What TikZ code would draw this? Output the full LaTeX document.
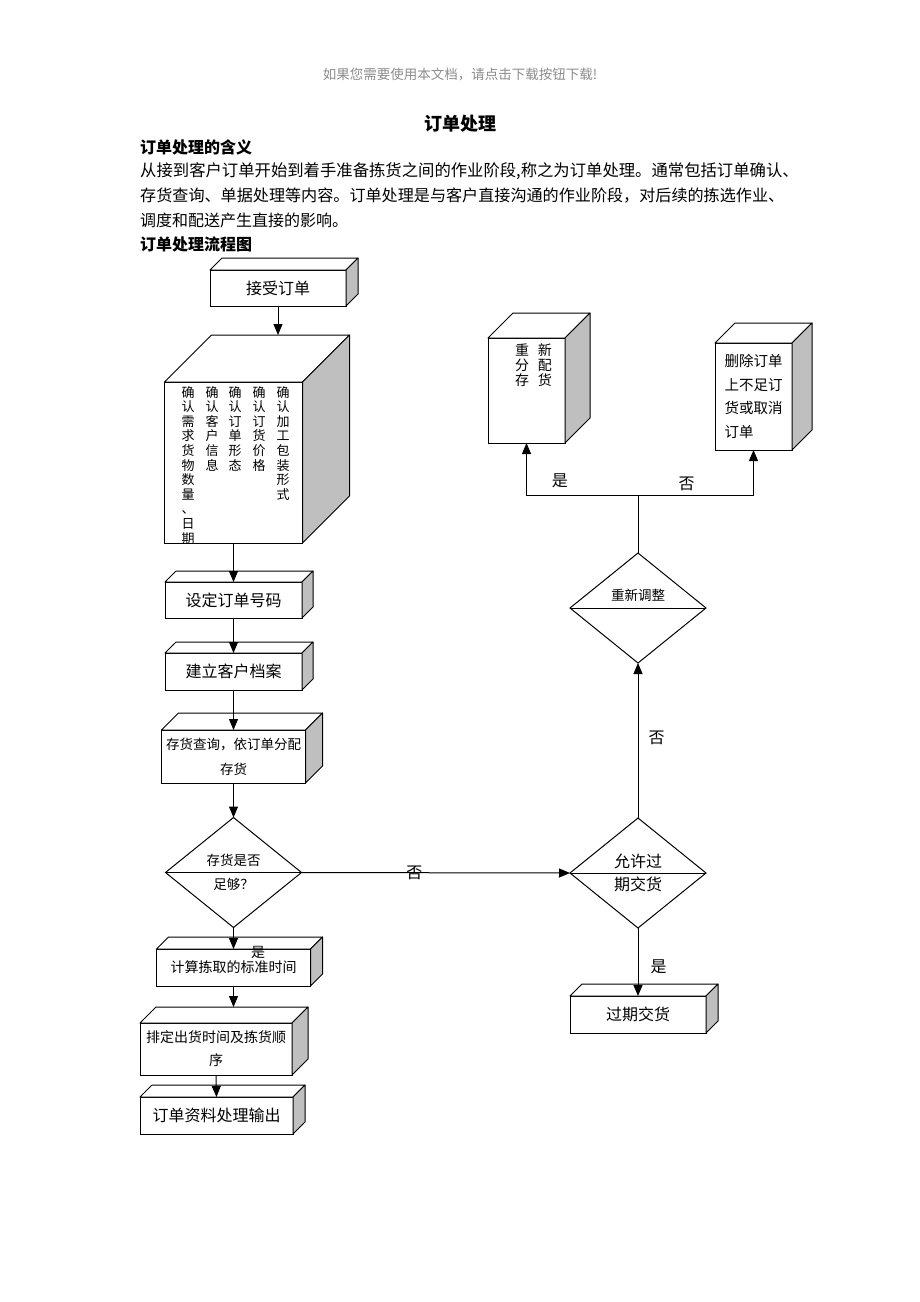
\documentclass[tikz,border=0pt]{standalone}
\usepackage{fontspec}
\setmainfont{Noto Sans CJK SC}
\usetikzlibrary{shapes.geometric,arrows.meta,calc}

\begin{document}
\begin{tikzpicture}[x=1pt,y=-1pt,
  box/.style={draw,fill=white,line width=1pt,inner sep=0pt,outer sep=0pt,align=center,font=\fontsize{16}{20}\selectfont},
  face/.style={draw,fill=white,line width=1pt,line join=round},
  side/.style={draw,fill=black!25,line width=1pt,line join=round},
  dia/.style={draw,diamond,fill=white,line width=1pt,inner sep=0pt,outer sep=0pt,align=center,minimum width=136,minimum height=110},
  arr/.style={-{Triangle[length=11pt,width=9pt]},line width=1pt},
  lbl/.style={inner sep=0pt,font=\fontsize{16}{16}\selectfont},
  vcol/.style={anchor=north,inner sep=0pt,align=center,font=\fontsize{13}{14.6}\selectfont},
  para/.style={anchor=west,inner sep=0pt,font=\fontsize{16}{18}\selectfont}]
\useasboundingbox[fill=white] (0,0) rectangle (920,1302);

% header and text
\node[inner sep=0pt,text=black!45,font=\fontsize{13.5}{14}\selectfont] (note) at (460,75) {如果您需要使用本文档，请点击下载按钮下载!};
\node[inner sep=0pt,font=\fontsize{18}{20}\selectfont\bfseries] (title) at (460,124) {订单处理};
\node[para,font=\fontsize{16}{18}\selectfont\bfseries] (meaning) at (140,147) {订单处理的含义};
\node[para,font=\fontsize{16.35}{18}\selectfont] (line1) at (140,171) {从接到客户订单开始到着手准备拣货之间的作业阶段,称之为订单处理。通常包括订单确认、};
\node[para,font=\fontsize{16.1}{18}\selectfont] (line2) at (140,196) {存货查询、单据处理等内容。订单处理是与客户直接沟通的作业阶段，对后续的拣选作业、};
\node[para] (line3) at (140,220) {调度和配送产生直接的影响。};
\node[para,font=\fontsize{16}{18}\selectfont\bfseries] (chart) at (140,244) {订单处理流程图};

% left column
\node[box,minimum width=136,minimum height=36] (recv) at (278,288) {接受订单};
\node[box,minimum width=138,minimum height=161] (confirm) at (233.5,462.5) {};
\node[box,minimum width=137,minimum height=36] (setno) at (233.5,600) {设定订单号码};
\node[box,minimum width=137,minimum height=37] (file) at (233.5,671.5) {建立客户档案};
\node[box,minimum width=144,minimum height=53,font=\fontsize{13.5}{25}\selectfont] (query) at (233.5,756.5) {存货查询，依订单分配\\存货};
\node[dia,font=\fontsize{13.5}{24}\selectfont] (enough) at (233.5,872.5) {存货是否\\足够？};
\node[box,minimum width=154,minimum height=37,font=\fontsize{14}{16}\selectfont] (calctime) at (233.5,967.5) {计算拣取的标准时间};
\node[box,minimum width=152,minimum height=52,font=\fontsize{14}{23}\selectfont] (sched) at (216,1049) {排定出货时间及拣货顺\\序};
\node[box,minimum width=153,minimum height=37] (output) at (216.5,1115.5) {订单资料处理输出};

% right column
\node[box,minimum width=77,minimum height=105] (realloc) at (526.5,390.5) {};
\node[box,minimum width=77,minimum height=107,align=left,font=\fontsize{14.5}{23.5}\selectfont] (cancel) at (753.5,396.5) {删除订单\\上不足订\\货或取消\\订单};
\node[dia] (adj) at (638,608) {};
\node[dia,font=\fontsize{16}{23}\selectfont] (allow) at (638,873) {允许过\\期交货};
\node[box,minimum width=136,minimum height=37] (overdue) at (638,1014.5) {过期交货};

% top and side faces
\foreach \nm/\dp in {recv/12,confirm/47,setno/11,file/11,query/17,calctime/12,sched/16,output/12,realloc/25,cancel/20,overdue/12} {
  \draw[face] (\nm.north west) -- ++(\dp,-\dp) -- ($(\nm.north east)+(\dp,-\dp)$) -- (\nm.north east) -- cycle;
  \draw[side] (\nm.north east) -- ++(\dp,-\dp) -- ($(\nm.south east)+(\dp,-\dp)$) -- (\nm.south east) -- cycle;
  \coordinate (\nm-back) at ($(\nm.north)+(\dp,-\dp)$);
}
\foreach \nm in {enough,allow,adj}
  \draw[line width=1pt] (\nm.west) -- (\nm.east);

% texts in the boxes
\node[vcol] (col1) at (188,386) {确\\认\\需\\求\\货\\物\\数\\量\\、\\日\\期};
\node[vcol] (col2) at (212,386) {确\\认\\客\\户\\信\\息};
\node[vcol] (col3) at (235,386) {确\\认\\订\\单\\形\\态};
\node[vcol] (col4) at (259,386) {确\\认\\订\\货\\价\\格};
\node[vcol] (col5) at (283,386) {确\\认\\加\\工\\包\\装\\形\\式};
\node[inner sep=0pt,align=left,font=\fontsize{14}{15}\selectfont] (realloctxt) at (533.5,365) {重\hspace{9pt}新\\分\hspace{9pt}配\\存\hspace{9pt}货};
\node[inner sep=0pt,font=\fontsize{13.5}{14}\selectfont] (adjtxt) at (638,595) {重新调整};

% connectors
\draw[arr] (recv.south) -- (recv.south |- confirm-back);
\draw[arr] (confirm.south) -- (setno.north);
\draw[arr] (setno.south) -- (file.north);
\draw[arr] (file.south) -- (query.north);
\draw[arr] (query.south) -- (enough.north);
\draw[arr] (enough.south) -- (calctime.north);
\node[lbl,font=\fontsize{14}{14}\selectfont] (yes1) at (258,952) {是};
\draw[arr] (calctime.south) -- (calctime.south |- sched-back);
\draw[arr] (sched.south) -- (output.north);
\draw[arr] (enough.east) -- node[lbl,pos=0.42] {否} (allow.west);
\draw[arr] (allow.north) -- node[lbl,pos=0.52,right=10pt] {否} (adj.south);
\draw[arr] (allow.south) -- node[lbl,pos=0.57,right=12pt] {是} (overdue.north);
\draw[line width=1pt] (adj.north) -- ++(0,-58) coordinate (fork);
\draw[arr] (fork) -| node[lbl,pos=0.35,above=7pt] {是} (realloc.south);
\draw[arr] (fork) -| node[lbl,pos=0.21,above=4pt] {否} (cancel.south);
\end{tikzpicture}
\end{document}
